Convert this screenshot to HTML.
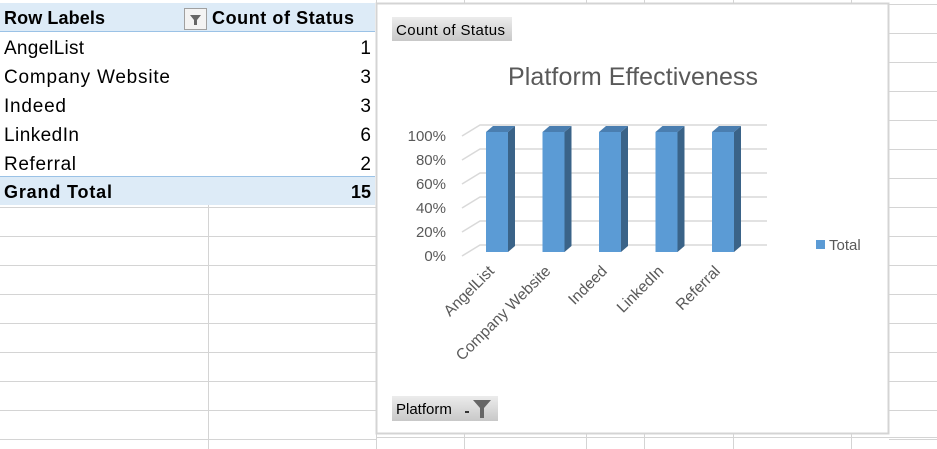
<!DOCTYPE html>
<html><head><meta charset="utf-8"><style>
body{margin:0;width:937px;height:449px;overflow:hidden;background:#fff;font-family:"Liberation Sans",sans-serif;}
svg{position:absolute;left:0;top:0}
</style></head><body>
<svg id="s" width="937" height="449">
<g id="grid"></g>
<g>
<rect x="0" y="3" width="375" height="28" fill="#DDEBF7"/>
<line x1="0" y1="31.5" x2="375" y2="31.5" stroke="#9BC2E6"/>
<text x="4" y="24" font-size="18" font-weight="bold" fill="#000" textLength="101">Row Labels</text>
<g><rect x="184.5" y="8.5" width="22" height="21" fill="#f3f3f3" stroke="#a0a0a0"/><path d="M190 15 h11 l-4 5 v5 h-3 v-5 z" fill="#666"/></g>
<text x="212" y="24" font-size="18" font-weight="bold" textLength="142">Count of Status</text>
<rect x="0" y="177" width="375" height="28" fill="#DDEBF7"/>
<line x1="0" y1="176.5" x2="375" y2="176.5" stroke="#9BC2E6"/>
<g id="rows"></g>
<text x="4" y="198" font-size="18" font-weight="bold" textLength="108">Grand Total</text>
<text x="371" y="198" font-size="18" font-weight="bold" text-anchor="end">15</text>
</g>
<g>
<rect x="376.5" y="3.5" width="512" height="430" fill="#fff" stroke="#d4d4d4" stroke-width="2"/>
<g><defs><linearGradient id="bg" x1="0" y1="0" x2="0" y2="1"><stop offset="0" stop-color="#ececec"/><stop offset="1" stop-color="#c8c8c8"/></linearGradient></defs>
<rect x="392" y="17" width="120" height="24" fill="url(#bg)"/><text x="396" y="35" font-size="15" fill="#000" textLength="109">Count of Status</text></g>
<text x="633" y="85" font-size="25" fill="#595959" text-anchor="middle" textLength="250">Platform Effectiveness</text>
<g id="plot"></g>
<g><rect x="816" y="240" width="9" height="9" fill="#5B9BD5"/><text x="829" y="250" font-size="15" fill="#595959">Total</text></g>
<g><rect x="392" y="396" width="106" height="25" fill="url(#bg)"/><text x="396" y="414" font-size="15" fill="#000">Platform</text><rect x="465" y="411" width="4" height="2" fill="#333"/><path d="M473 400 h18 l-7 8 v10 h-4 v-10 z" fill="#666"/></g>
</g>
</svg>
<script>
const categories=["AngelList","Company Website","Indeed","LinkedIn","Referral"];
const counts=[1,3,3,6,2];
const chartValues=[1,1,1,1,1];
const yTicks=[0,0.2,0.4,0.6,0.8,1];
const yTickLabels=["0%","20%","40%","60%","80%","100%"];
const labelWidths=[80,166,62,75,72];
const NS="http://www.w3.org/2000/svg";
function mk(t,a,p){const e=document.createElementNS(NS,t);for(const k in a)e.setAttribute(k,a[k]);p.appendChild(e);return e;}
const grid=document.getElementById('grid');
for(let y=32;y<449;y+=29){if(y<=205)continue;const l=mk('line',{x1:0,y1:y+1.5,x2:376,y2:y+1.5,stroke:'#d4d4d4'},grid);}
for(let y=3;y<449;y+=29){const l=mk('line',{x1:889,y1:y+1.5,x2:937,y2:y+1.5,stroke:'#d4d4d4'},grid);}
mk('line',{x1:208.5,y1:205,x2:208.5,y2:449,stroke:'#d4d4d4'},grid);
mk('line',{x1:376.5,y1:0,x2:376.5,y2:449,stroke:'#d4d4d4'},grid);
[464,586,644,733,851].forEach(x=>{mk('line',{x1:x+.5,y1:0,x2:x+.5,y2:3,stroke:'#d4d4d4'},grid);mk('line',{x1:x+.5,y1:434,x2:x+.5,y2:449,stroke:'#d4d4d4'},grid);});
mk('line',{x1:376,y1:437.5,x2:937,y2:437.5,stroke:'#d4d4d4'},grid);
const rows=document.getElementById('rows');
categories.forEach((c,i)=>{const y=54+i*29;
const a=mk('text',{x:4,y:y,'font-size':19,textLength:labelWidths[i]},rows);a.textContent=c;
const b=mk('text',{x:371,y:y,'font-size':19,'text-anchor':'end'},rows);b.textContent=counts[i];});
const plot=document.getElementById('plot');
const y0=252,y1=132,dx=18,dy=11,left=462,right=767;
const ys=v=>y0-(v)*(y0-y1);
const xs=i=>497+i*56.5;
yTicks.forEach((t,i)=>{const y=ys(t);
const g=mk('polyline',{points:`${left},${y+4} ${left+dx},${y-dy+4} ${right},${y-dy+4}`,fill:'none',stroke:'#d9d9d9','stroke-width':1.5},plot);

const l=mk('text',{x:446,y:y+9,'font-size':15,fill:'#595959','text-anchor':'end'},plot);l.textContent=yTickLabels[i];
});
chartValues.forEach((v,i)=>{const cx=xs(i),w=22,x=cx-w/2,top=ys(v);
const g=mk('g',{},plot);
mk('rect',{x:x,y:top,width:w,height:y0-top,fill:'#5B9BD5'},g);
mk('polygon',{points:`${x+w},${top} ${x+w+7},${top-6} ${x+w+7},${y0-6} ${x+w},${y0}`,fill:'#3A6388'},g);
mk('polygon',{points:`${x},${top} ${x+7},${top-6} ${x+w+7},${top-6} ${x+w},${top}`,fill:'#4A7EB0'},g);
const ax=cx-2,ay=272;
const t=mk('text',{x:ax,y:ay,'font-size':15.5,fill:'#595959','text-anchor':'end',transform:`rotate(-45 ${ax} ${ay})`},plot);
t.textContent=categories[i];});
</script>
</body></html>
